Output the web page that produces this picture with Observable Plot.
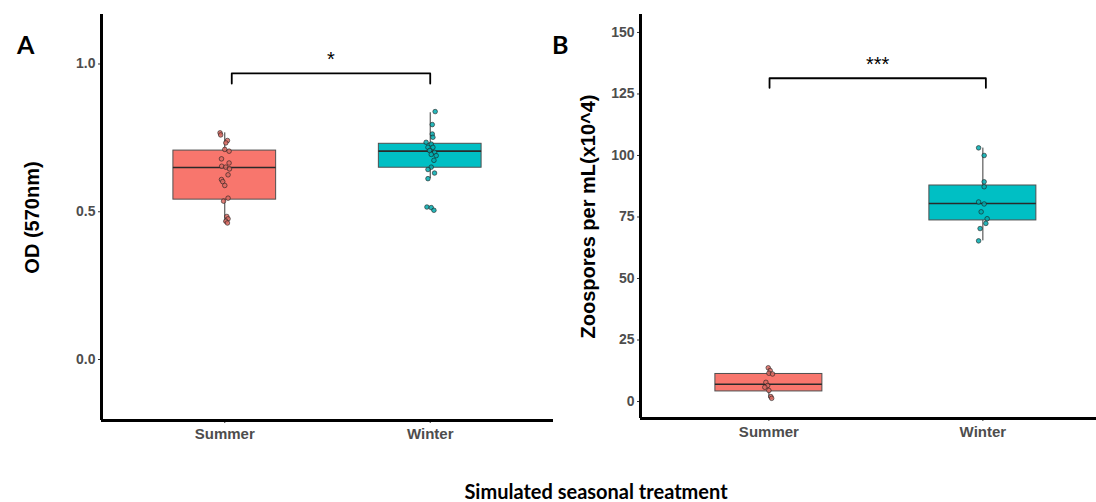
<!DOCTYPE html>
<html>
<head>
<meta charset="utf-8">
<script src="https://cdn.jsdelivr.net/npm/d3@7"></script>
<script src="https://cdn.jsdelivr.net/npm/@observablehq/plot@0.6"></script>
<style>
  body { margin: 0; background: #fff; }
  #fig { position: relative; width: 1096px; height: 502px; overflow: hidden; background: #fff; }
  #fig > svg { position: absolute; top: 0; }
  #fig svg.panel text { font-family: 'Liberation Sans', Arial, sans-serif !important; }
  #fig svg.panel g[aria-label="y-axis tick label"] text,
  #fig svg.panel g[aria-label="y-axis tick label"] { font-size: 14px !important; font-weight: bold !important; fill: #4d4d4d !important; }
  #fig svg.panel g[aria-label="x-axis tick label"] text,
  #fig svg.panel g[aria-label="x-axis tick label"] { font-size: 15px !important; font-weight: bold !important; fill: #4d4d4d !important; }
  #fig svg.overlay text { font-family: Lato, 'Noto Sans', sans-serif; font-weight: bold; }
</style>
</head>
<body>
<div id="fig"></div>
<script>
// ---------- data ----------
const categories = ["Summer", "Winter"];
const categoryColors = ["#F8766D", "#00BFC4"];

// Panel A: OD (570nm)
const odSummer = [0.767, 0.760, 0.741, 0.733, 0.711, 0.705, 0.679, 0.665, 0.654, 0.651, 0.645,
                  0.625, 0.609, 0.602, 0.589, 0.546, 0.536, 0.484, 0.476, 0.468, 0.462];
const odSummerJitter = [-0.023, -0.020, 0.013, 0.005, 0, 0.021, -0.016, 0.021, -0.015, 0.005, 0.023,
                        0.016, -0.016, -0.010, 0, 0.016, -0.006, 0.010, 0.016, 0.005, 0.013];
const odWinter = [0.839, 0.795, 0.763, 0.752, 0.735, 0.729, 0.718, 0.718, 0.707, 0.701, 0.694,
                  0.690, 0.674, 0.651, 0.643, 0.631, 0.612, 0.516, 0.514, 0.505];
const odWinterJitter = [0.024, 0.010, 0.010, 0.013, -0.020, 0.005, -0.011, 0.013, -0.003, 0.021, 0.005,
                        0.029, 0.018, 0.005, -0.011, 0.021, -0.011, -0.016, 0.005, 0.018];
// box statistics [Summer, Winter]
const odLow    = [0.460, 0.612];
const odQ1     = [0.541, 0.649];
const odMedian = [0.650, 0.705];
const odQ3     = [0.707, 0.730];
const odHigh   = [0.767, 0.835];
const odTicks = [0.0, 0.5, 1.0];
const odDomain = [-0.2064, 1.1675];
const odBracket = {x1: 1.034, x2: 2.0, y: 0.968, tip: 0.934, label: "*", labelY: 0.993};

// Panel B: Zoospores per mL (x10^4)
const zooSummer = [13.7, 12.6, 11.5, 11.2, 7.8, 6.5, 5.8, 4.5, 2.0, 1.3];
const zooSummerJitter = [-0.003, 0.006, 0, 0.017, -0.014, -0.006, -0.019, 0, 0.009, 0.013];
const zooWinter = [103.1, 100.0, 89.3, 87.3, 81.1, 80.3, 77.1, 74.3, 72.4, 70.3, 65.3];
const zooWinterJitter = [-0.020, 0.006, 0.006, 0.006, -0.020, 0.006, -0.008, 0.020, 0.014, -0.013, -0.020];
const zooLow    = [1.3, 65.3];
const zooQ1     = [4.1, 73.6];
const zooMedian = [7.0, 80.5];
const zooQ3     = [11.2, 87.8];
const zooHigh   = [13.7, 103.0];
const zooTicks = [0, 25, 50, 75, 100, 125, 150];
const zooDomain = [-6.9, 157.3];
const zooBracket = {x1: 1.003, x2: 2.014, y: 131.4, tip: 127.5, label: "***", labelY: 134.3};

const yLabelA = "OD (570nm)";
const yLabelB = "Zoospores per mL(x10^4)";
const xTitle = "Simulated seasonal treatment";
const panelLetters = ["A", "B"];

// ---------- helpers ----------
function makeBoxes(lo, q1, med, q3, hi) {
  return categories.map((c, i) => ({
    cat: c, pos: i + 1, left: i + 1 - 0.25, right: i + 1 + 0.25,
    lo: lo[i], q1: q1[i], med: med[i], q3: q3[i], hi: hi[i]
  }));
}
function makePoints(values, jitter, catIndex) {
  return values.map((v, k) => ({cat: categories[catIndex], px: catIndex + 1 + jitter[k], v}));
}

function panel(cfg) {
  const marks = [];
  cfg.boxes.forEach((b, i) => {
    const col = categoryColors[i];
    marks.push(Plot.ruleX([b], {x: "pos", y1: "lo", y2: "hi", stroke: "#3a3a3a", strokeWidth: 1}));
    marks.push(Plot.rect([b], {x1: "left", x2: "right", y1: "q1", y2: "q3", fill: col, stroke: "#4f4f4f", strokeWidth: 1}));
    marks.push(Plot.ruleY([b], {x1: "left", x2: "right", y: "med", stroke: "#2a2a2a", strokeWidth: 1.6}));
  });
  cfg.points.forEach((pts, i) => {
    const col = d3.color(categoryColors[i]).darker(0.35).formatHex();
    marks.push(Plot.dot(pts, {x: "px", y: "v", r: 2.3, fill: col, fillOpacity: 0.85,
      stroke: "#1e1e1e", strokeWidth: 0.8, strokeOpacity: 0.75}));
  });
  const br = cfg.bracket;
  const brRows = [{x: br.x1, y: br.tip}, {x: br.x1, y: br.y}, {x: br.x2, y: br.y}, {x: br.x2, y: br.tip}];
  marks.push(Plot.line(brRows, {x: "x", y: "y", stroke: "#000", strokeWidth: 1.8}));
  marks.push(Plot.text([br], {x: d => (d.x1 + d.x2) / 2, y: "labelY", text: "label",
    lineAnchor: "bottom", fontSize: 20, fill: "#000"}));
  // axes
  marks.push(Plot.axisY({ticks: cfg.yTicks, tickFormat: cfg.tickFormat, tickSize: 3, tickPadding: 3,
    fontSize: 14, fontWeight: "bold", fill: "#4d4d4d", stroke: "#333", label: null}));
  marks.push(Plot.axisX({ticks: [1, 2], tickFormat: d => categories[d - 1], tickSize: 3, tickPadding: 5,
    fontSize: 15, fontWeight: "bold", fill: "#4d4d4d", stroke: "#333", label: null}));
  marks.push(Plot.ruleX([cfg.xDomain[0]], {stroke: "#000", strokeWidth: 3}));
  marks.push(Plot.ruleY([cfg.yDomain[0]], {stroke: "#000", strokeWidth: 3}));
  marks.push(Plot.text([cfg.yLabel], {text: d => d, frameAnchor: "left", textAnchor: "middle",
    dx: cfg.labelDx, rotate: -90, fontSize: 20, fontWeight: "bold", fill: "#000"}));

  const svg = Plot.plot({
    width: cfg.width, height: cfg.height,
    marginLeft: cfg.marginLeft, marginRight: cfg.marginRight,
    marginTop: cfg.marginTop, marginBottom: cfg.marginBottom,
    x: {domain: cfg.xDomain, axis: null},
    y: {domain: cfg.yDomain, axis: null},
    style: {background: "transparent", overflow: "visible"},
    marks
  });
  svg.classList.add("panel");
  return svg;
}

const fig = document.getElementById("fig");

const svgA = panel({
  width: 560, height: 450, marginLeft: 101, marginRight: 7, marginTop: 14, marginBottom: 30,
  xDomain: [0.4, 2.6], yDomain: odDomain, yTicks: odTicks, tickFormat: d3.format(".1f"),
  boxes: makeBoxes(odLow, odQ1, odMedian, odQ3, odHigh),
  points: [makePoints(odSummer, odSummerJitter, 0), makePoints(odWinter, odWinterJitter, 1)],
  bracket: odBracket, yLabel: yLabelA, labelDx: -69
});
svgA.style.left = "0px";
fig.appendChild(svgA);

const svgB = panel({
  width: 536, height: 450, marginLeft: 80, marginRight: 0, marginTop: 14, marginBottom: 32,
  xDomain: [0.4, 2.531], yDomain: zooDomain, yTicks: zooTicks, tickFormat: d3.format("d"),
  boxes: makeBoxes(zooLow, zooQ1, zooMedian, zooQ3, zooHigh),
  points: [makePoints(zooSummer, zooSummerJitter, 0), makePoints(zooWinter, zooWinterJitter, 1)],
  bracket: zooBracket, yLabel: yLabelB, labelDx: -52
});
svgB.style.left = "560px";
fig.appendChild(svgB);

// panel letters and shared x title
const overlay = d3.select(fig).append("svg")
  .attr("class", "overlay")
  .attr("width", 1096).attr("height", 502)
  .style("left", "0px").style("pointer-events", "none");
overlay.selectAll("text.letter").data(panelLetters).join("text")
  .attr("class", "letter")
  .attr("x", (d, i) => i === 0 ? 17 : 552).attr("y", 54)
  .attr("font-size", 25).attr("fill", "#000").text(d => d);
overlay.append("text")
  .attr("x", 596).attr("y", 499).attr("text-anchor", "middle")
  .attr("font-size", 20).attr("fill", "#000").text(xTitle);
</script>
</body>
</html>
